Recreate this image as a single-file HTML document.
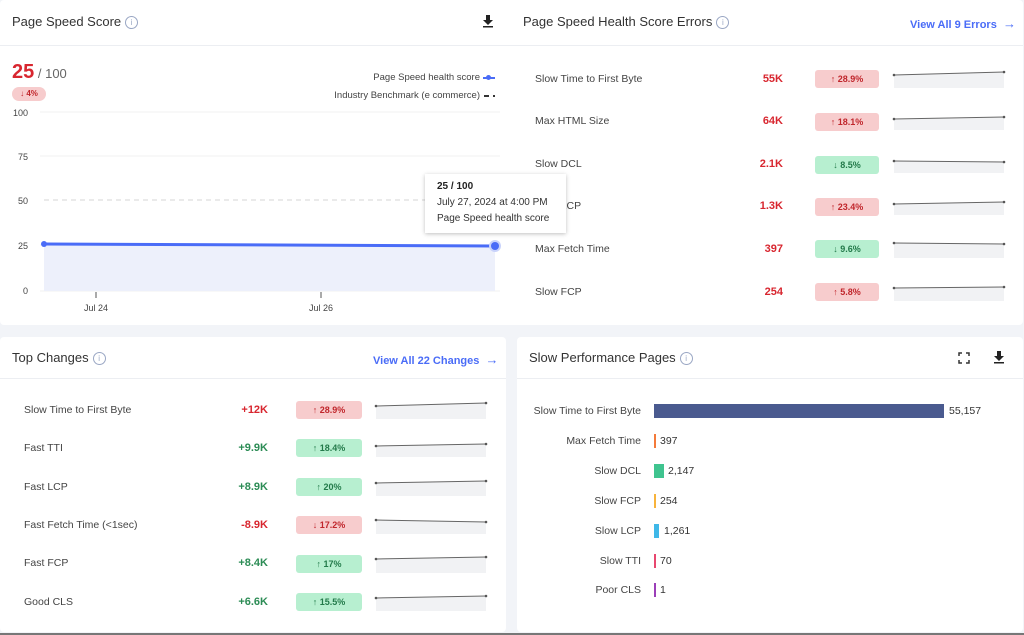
<!DOCTYPE html>
<html><head><style>
body{margin:0;width:1024px;height:635px;background:#f2f4f8;font-family:"Liberation Sans",sans-serif;position:relative;overflow:hidden;color:#333}
.a{position:absolute}
.card{position:absolute;background:#fff;border-radius:4px}
.h{font-size:13px;color:#333;position:absolute}
.info{display:inline-block;width:11px;height:11px;border:1px solid #9aa7c4;border-radius:50%;font-size:8px;text-align:center;line-height:11px;color:#9aa7c4;vertical-align:1px;margin-left:4px}
.lbl{position:absolute;font-size:10.5px;color:#444}
.val{position:absolute;font-size:11px;font-weight:bold;text-align:right;width:60px}
.red{color:#d8262f}.grn{color:#2c8c55}
.badge{position:absolute;height:18px;border-radius:3px;font-size:9px;font-weight:bold;text-align:center;line-height:18px}
.br{background:#f7cccd;color:#c0262c}.bg{background:#b7efd0;color:#237a4a}
.link{position:absolute;font-size:11px;color:#4a6cf7;font-weight:bold}
.blab{position:absolute;font-size:10.5px;color:#444;text-align:right;width:140px}
.bval{position:absolute;font-size:10.5px;color:#333}
</style></head><body>
<div class="card" style="left:0;top:0;width:1023px;height:325px"></div>
<div class="a" style="left:0;top:45px;width:1023px;height:1px;background:#eceef2"></div>
<div class="h" style="left:12px;top:14px">Page Speed Score<span class="info">i</span></div>
<svg class="a" style="left:483px;top:15px" width="12" height="13"><path d="M3,0h4v5h3l-5,5l-5,-5h3z" fill="#222"/><rect x="0" y="11" width="10" height="1.5" fill="#222"/></svg>
<div class="h" style="left:523px;top:14px">Page Speed Health Score Errors<span class="info">i</span></div>
<div class="link" style="left:910px;top:16px">View All 9 Errors &nbsp;<span style="font-size:13px">→</span></div>

<div class="a" style="left:12px;top:61px;font-size:20px;font-weight:bold;color:#d8262f">25<span style="font-size:13px;font-weight:normal;color:#666"> / 100</span></div>
<div class="a" style="left:12px;top:87px;width:34px;height:14px;border-radius:7px;background:#f7cccd;color:#c0262c;font-size:8px;font-weight:bold;text-align:center;line-height:14px">↓ 4%</div>
<div class="a" style="left:280px;top:72px;width:200px;text-align:right;font-size:9.5px;color:#444">Page Speed health score</div>
<div class="a" style="left:483px;top:77px;width:12px;height:2px;background:#4a6cf7"></div><div class="a" style="left:486px;top:75px;width:5px;height:5px;border-radius:50%;background:#4a6cf7"></div>
<div class="a" style="left:260px;top:90px;width:220px;text-align:right;font-size:9.5px;color:#444">Industry Benchmark (e commerce)</div>
<div class="a" style="left:484px;top:95px;width:5px;height:1.5px;background:#333"></div><div class="a" style="left:493px;top:95px;width:2px;height:1.5px;background:#333"></div>

<svg class="a" style="left:0;top:100px" width="512" height="220">
<g font-family="Liberation Sans" font-size="9" fill="#444" text-anchor="end">
<text x="28" y="16">100</text><text x="28" y="60">75</text><text x="28" y="104">50</text><text x="28" y="149">25</text><text x="28" y="194">0</text></g>
<g stroke="#f0f0f0"><line x1="40" y1="12" x2="500" y2="12"/><line x1="40" y1="56" x2="500" y2="56"/><line x1="40" y1="145" x2="500" y2="145"/><line x1="40" y1="191" x2="500" y2="191"/></g>
<line x1="44" y1="100" x2="495" y2="100" stroke="#d6d6d6" stroke-dasharray="5,4"/>
<polygon points="44,144 495,146 495,191 44,191" fill="#edf0fb"/>
<line x1="44" y1="144" x2="495" y2="146" stroke="#4a6cf7" stroke-width="3"/>
<circle cx="44" cy="144" r="3" fill="#4a6cf7"/><circle cx="495" cy="146" r="6" fill="#c9d3fb"/><circle cx="495" cy="146" r="4" fill="#4a6cf7"/>
<g stroke="#555"><line x1="96" y1="192" x2="96" y2="198"/><line x1="321" y1="192" x2="321" y2="198"/></g>
<g font-family="Liberation Sans" font-size="9" fill="#444" text-anchor="middle"><text x="96" y="211">Jul 24</text><text x="321" y="211">Jul 26</text></g>
</svg>

<div class="lbl" style="left:535px;top:73px">Slow Time to First Byte</div>
<div class="lbl" style="left:535px;top:115px">Max HTML Size</div>
<div class="lbl" style="left:535px;top:158px">Slow DCL</div>
<div class="lbl" style="left:535px;top:200px">Slow LCP</div>
<div class="lbl" style="left:535px;top:243px">Max Fetch Time</div>
<div class="lbl" style="left:535px;top:286px">Slow FCP</div>
<div class="val red" style="left:723px;top:73px">55K</div>
<div class="val red" style="left:723px;top:115px">64K</div>
<div class="val red" style="left:723px;top:158px">2.1K</div>
<div class="val red" style="left:723px;top:200px">1.3K</div>
<div class="val red" style="left:723px;top:243px">397</div>
<div class="val red" style="left:723px;top:286px">254</div>
<div class="badge br" style="left:815px;top:70px;width:64px">↑ 28.9%</div>
<div class="badge br" style="left:815px;top:113px;width:64px">↑ 18.1%</div>
<div class="badge bg" style="left:815px;top:156px;width:64px">↓ 8.5%</div>
<div class="badge br" style="left:815px;top:198px;width:64px">↑ 23.4%</div>
<div class="badge bg" style="left:815px;top:240px;width:64px">↓ 9.6%</div>
<div class="badge br" style="left:815px;top:283px;width:64px">↑ 5.8%</div>
<svg class="a" style="left:890px;top:60px" width="120" height="250">
<g fill="#f1f2f4"><polygon points="4,15 114,12 114,28 4,28"/><polygon points="4,59 114,57 114,70 4,70"/><polygon points="4,101 114,102 114,113 4,113"/><polygon points="4,144 114,142 114,155 4,155"/><polygon points="4,183 114,184 114,198 4,198"/><polygon points="4,228 114,227 114,241 4,241"/></g>
<g stroke="#666" stroke-width="1"><line x1="4" y1="15" x2="114" y2="12"/><line x1="4" y1="59" x2="114" y2="57"/><line x1="4" y1="101" x2="114" y2="102"/><line x1="4" y1="144" x2="114" y2="142"/><line x1="4" y1="183" x2="114" y2="184"/><line x1="4" y1="228" x2="114" y2="227"/></g>
<g fill="#555"><circle cx="4" cy="15" r="1.3"/><circle cx="114" cy="12" r="1.3"/><circle cx="4" cy="59" r="1.3"/><circle cx="114" cy="57" r="1.3"/><circle cx="4" cy="101" r="1.3"/><circle cx="114" cy="102" r="1.3"/><circle cx="4" cy="144" r="1.3"/><circle cx="114" cy="142" r="1.3"/><circle cx="4" cy="183" r="1.3"/><circle cx="114" cy="184" r="1.3"/><circle cx="4" cy="228" r="1.3"/><circle cx="114" cy="227" r="1.3"/></g>
</svg>

<div class="a" style="left:425px;top:174px;width:141px;height:59px;background:#fff;box-shadow:0 1px 4px rgba(0,0,0,.25)"></div>
<div class="a" style="left:437px;top:181px;font-size:10px;font-weight:bold;color:#222">25 / 100</div>
<div class="a" style="left:437px;top:197px;font-size:10px;color:#333">July 27, 2024 at 4:00 PM</div>
<div class="a" style="left:437px;top:213px;font-size:10px;color:#333">Page Speed health score</div>

<div class="card" style="left:0;top:337px;width:506px;height:295px"></div>
<div class="a" style="left:0;top:378px;width:506px;height:1px;background:#eceef2"></div>
<div class="h" style="left:12px;top:350px">Top Changes<span class="info">i</span></div>
<div class="link" style="left:373px;top:352px">View All 22 Changes &nbsp;<span style="font-size:13px">→</span></div>
<div class="lbl" style="left:24px;top:404px">Slow Time to First Byte</div>
<div class="lbl" style="left:24px;top:442px">Fast TTI</div>
<div class="lbl" style="left:24px;top:481px">Fast LCP</div>
<div class="lbl" style="left:24px;top:519px">Fast Fetch Time (&lt;1sec)</div>
<div class="lbl" style="left:24px;top:557px">Fast FCP</div>
<div class="lbl" style="left:24px;top:596px">Good CLS</div>
<div class="val red" style="left:208px;top:404px">+12K</div>
<div class="val grn" style="left:208px;top:442px">+9.9K</div>
<div class="val grn" style="left:208px;top:481px">+8.9K</div>
<div class="val red" style="left:208px;top:519px">-8.9K</div>
<div class="val grn" style="left:208px;top:557px">+8.4K</div>
<div class="val grn" style="left:208px;top:596px">+6.6K</div>
<div class="badge br" style="left:296px;top:401px;width:66px">↑ 28.9%</div>
<div class="badge bg" style="left:296px;top:439px;width:66px">↑ 18.4%</div>
<div class="badge bg" style="left:296px;top:478px;width:66px">↑ 20%</div>
<div class="badge br" style="left:296px;top:516px;width:66px">↓ 17.2%</div>
<div class="badge bg" style="left:296px;top:555px;width:66px">↑ 17%</div>
<div class="badge bg" style="left:296px;top:593px;width:66px">↑ 15.5%</div>
<svg class="a" style="left:372px;top:395px" width="120" height="230">
<g fill="#f1f2f4"><polygon points="4,11 114,8 114,24 4,24"/><polygon points="4,51 114,49 114,62 4,62"/><polygon points="4,88 114,86 114,101 4,101"/><polygon points="4,125 114,127 114,139 4,139"/><polygon points="4,164 114,162 114,178 4,178"/><polygon points="4,203 114,201 114,216 4,216"/></g>
<g stroke="#666"><line x1="4" y1="11" x2="114" y2="8"/><line x1="4" y1="51" x2="114" y2="49"/><line x1="4" y1="88" x2="114" y2="86"/><line x1="4" y1="125" x2="114" y2="127"/><line x1="4" y1="164" x2="114" y2="162"/><line x1="4" y1="203" x2="114" y2="201"/></g>
<g fill="#555"><circle cx="4" cy="11" r="1.3"/><circle cx="114" cy="8" r="1.3"/><circle cx="4" cy="51" r="1.3"/><circle cx="114" cy="49" r="1.3"/><circle cx="4" cy="88" r="1.3"/><circle cx="114" cy="86" r="1.3"/><circle cx="4" cy="125" r="1.3"/><circle cx="114" cy="127" r="1.3"/><circle cx="4" cy="164" r="1.3"/><circle cx="114" cy="162" r="1.3"/><circle cx="4" cy="203" r="1.3"/><circle cx="114" cy="201" r="1.3"/></g>
</svg>

<div class="card" style="left:517px;top:337px;width:506px;height:295px"></div>
<div class="a" style="left:517px;top:378px;width:506px;height:1px;background:#eceef2"></div>
<div class="h" style="left:529px;top:350px">Slow Performance Pages<span class="info">i</span></div>
<svg class="a" style="left:958px;top:352px" width="12" height="12"><g stroke="#333" stroke-width="1.5" fill="none"><path d="M1,4V1H4M8,1H11V4M11,8V11H8M4,11H1V8"/></g></svg>
<svg class="a" style="left:994px;top:351px" width="12" height="13"><path d="M3,0h4v5h3l-5,5l-5,-5h3z" fill="#222"/><rect x="0" y="11" width="10" height="1.5" fill="#222"/></svg>
<div class="blab" style="left:501px;top:405px">Slow Time to First Byte</div>
<div class="blab" style="left:501px;top:435px">Max Fetch Time</div>
<div class="blab" style="left:501px;top:465px">Slow DCL</div>
<div class="blab" style="left:501px;top:495px">Slow FCP</div>
<div class="blab" style="left:501px;top:525px">Slow LCP</div>
<div class="blab" style="left:501px;top:555px">Slow TTI</div>
<div class="blab" style="left:501px;top:584px">Poor CLS</div>
<div class="a" style="left:654px;top:404px;width:290px;height:14px;background:#4a5a8f"></div>
<div class="a" style="left:654px;top:434px;width:2px;height:14px;background:#f47a3a"></div>
<div class="a" style="left:654px;top:464px;width:10px;height:14px;background:#3fc48f"></div>
<div class="a" style="left:654px;top:494px;width:2px;height:14px;background:#f8b33c"></div>
<div class="a" style="left:654px;top:524px;width:5px;height:14px;background:#3fb8e8"></div>
<div class="a" style="left:654px;top:554px;width:2px;height:14px;background:#e8476f"></div>
<div class="a" style="left:654px;top:583px;width:2px;height:14px;background:#9b3fb8"></div>
<div class="bval" style="left:949px;top:405px">55,157</div>
<div class="bval" style="left:660px;top:435px">397</div>
<div class="bval" style="left:668px;top:465px">2,147</div>
<div class="bval" style="left:660px;top:495px">254</div>
<div class="bval" style="left:664px;top:525px">1,261</div>
<div class="bval" style="left:660px;top:555px">70</div>
<div class="bval" style="left:660px;top:584px">1</div>
<div class="a" style="left:0;top:633px;width:1024px;height:2px;background:#777"></div>
</body></html>
